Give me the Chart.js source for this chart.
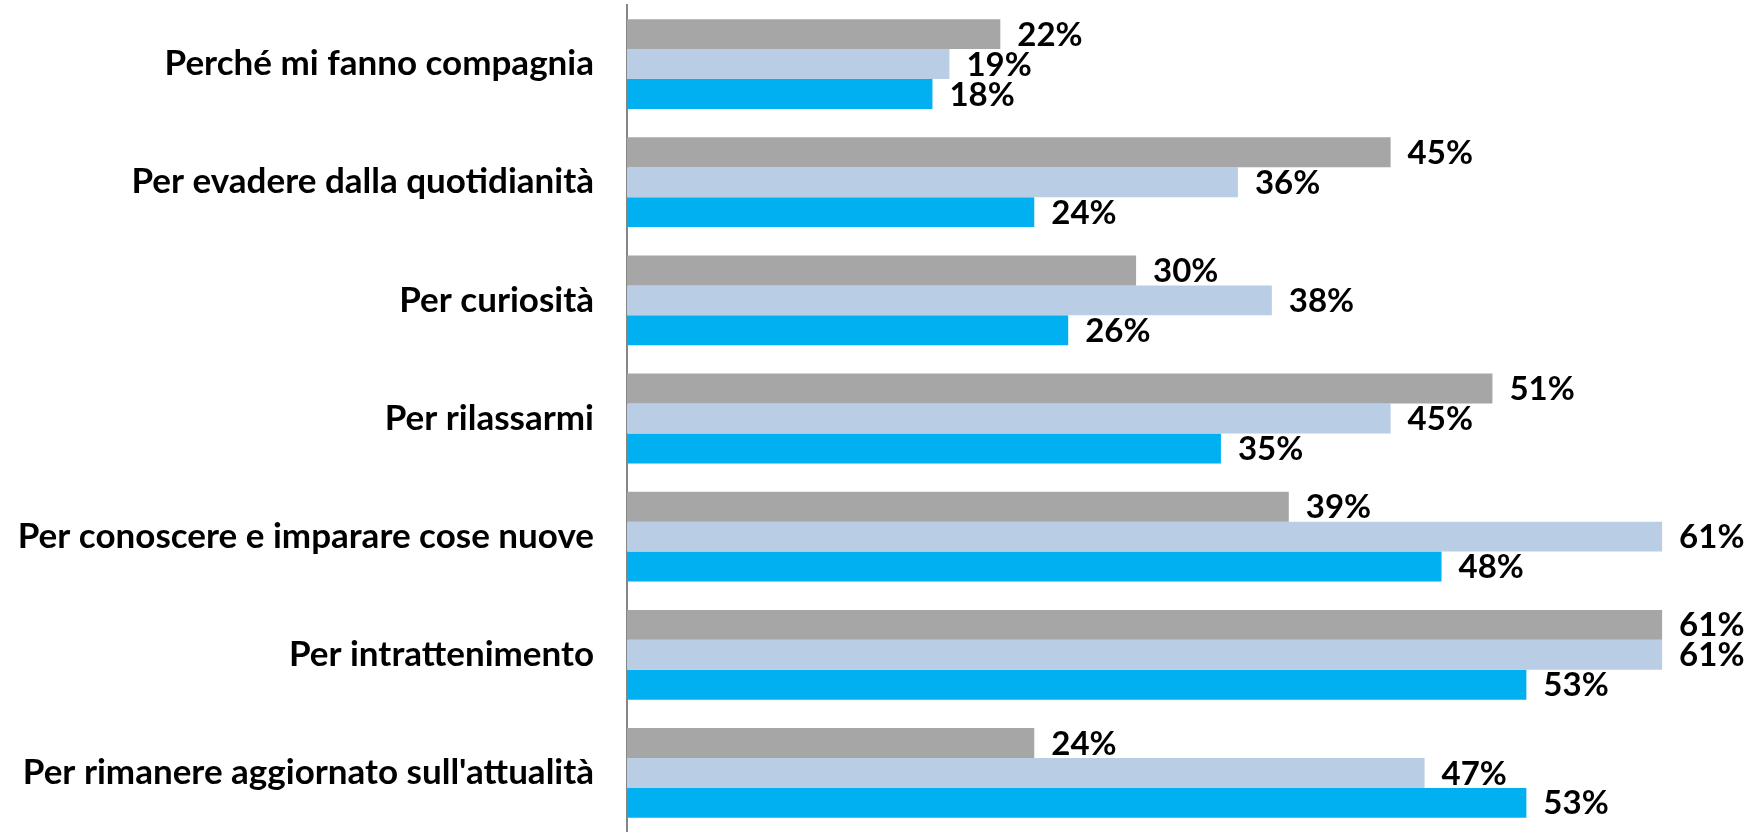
<!DOCTYPE html>
<html>
<head>
<script src="https://cdn.jsdelivr.net/npm/chart.js"></script>
<title>Motivazioni</title>
<style>
  html, body { margin: 0; padding: 0; background: #fff; }
  #wrap { width: 1762px; height: 832px; }
</style>
</head>
<body>
<div id="wrap">
  <canvas id="myChart"></canvas>
</div>
<script>
const categories = [
  "Perché mi fanno compagnia",
  "Per evadere dalla quotidianità",
  "Per curiosità",
  "Per rilassarmi",
  "Per conoscere e imparare cose nuove",
  "Per intrattenimento",
  "Per rimanere aggiornato sull'attualità"
];
const serie1 = [22, 45, 30, 51, 39, 61, 24];
const serie2 = [19, 36, 38, 45, 61, 61, 47];
const serie3 = [18, 24, 26, 35, 48, 53, 53];

// draws "NN%" right after the end of each bar
const valueLabels = {
  id: 'valueLabels',
  afterDatasetsDraw(chart) {
    const ctx = chart.ctx;
    ctx.save();
    ctx.font = 'bold 33px Lato';
    ctx.fillStyle = '#000';
    ctx.textAlign = 'left';
    ctx.textBaseline = 'middle';
    chart.data.datasets.forEach((ds, i) => {
      const meta = chart.getDatasetMeta(i);
      meta.data.forEach((bar, j) => {
        ctx.fillText(ds.data[j] + '%', bar.x + 17, bar.y + 1);
      });
    });
    ctx.restore();
  }
};

const ctx = document.getElementById('myChart');
new Chart(ctx, {
  type: 'bar',
  data: {
    labels: categories,
    datasets: [
      { label: 'Serie 1', data: serie1, backgroundColor: '#A6A6A6' },
      { label: 'Serie 2', data: serie2, backgroundColor: '#B9CDE5' },
      { label: 'Serie 3', data: serie3, backgroundColor: '#00B0F0' }
    ]
  },
  options: {
    indexAxis: 'y',
    responsive: true,
    maintainAspectRatio: false,
    animation: false,
    layout: { padding: { top: 5, right: 32, bottom: 0, left: 0 } },
    datasets: {
      bar: { barPercentage: 1, categoryPercentage: 0.76 }
    },
    scales: {
      x: {
        display: false,
        min: 0,
        max: 65
      },
      y: {
        afterFit: (s) => {
          s.width = 627;
          s.paddingTop = 0;
          s.paddingBottom = 0;
        },
        grid: { display: false },
        border: { display: true, color: '#868686', width: 2 },
        ticks: {
          color: '#000',
          padding: 25,
          font: { family: 'Lato', weight: 'bold', size: 35 }
        }
      }
    },
    plugins: {
      legend: { display: false },
      tooltip: { enabled: false }
    }
  },
  plugins: [valueLabels]
});
</script>
</body>
</html>
